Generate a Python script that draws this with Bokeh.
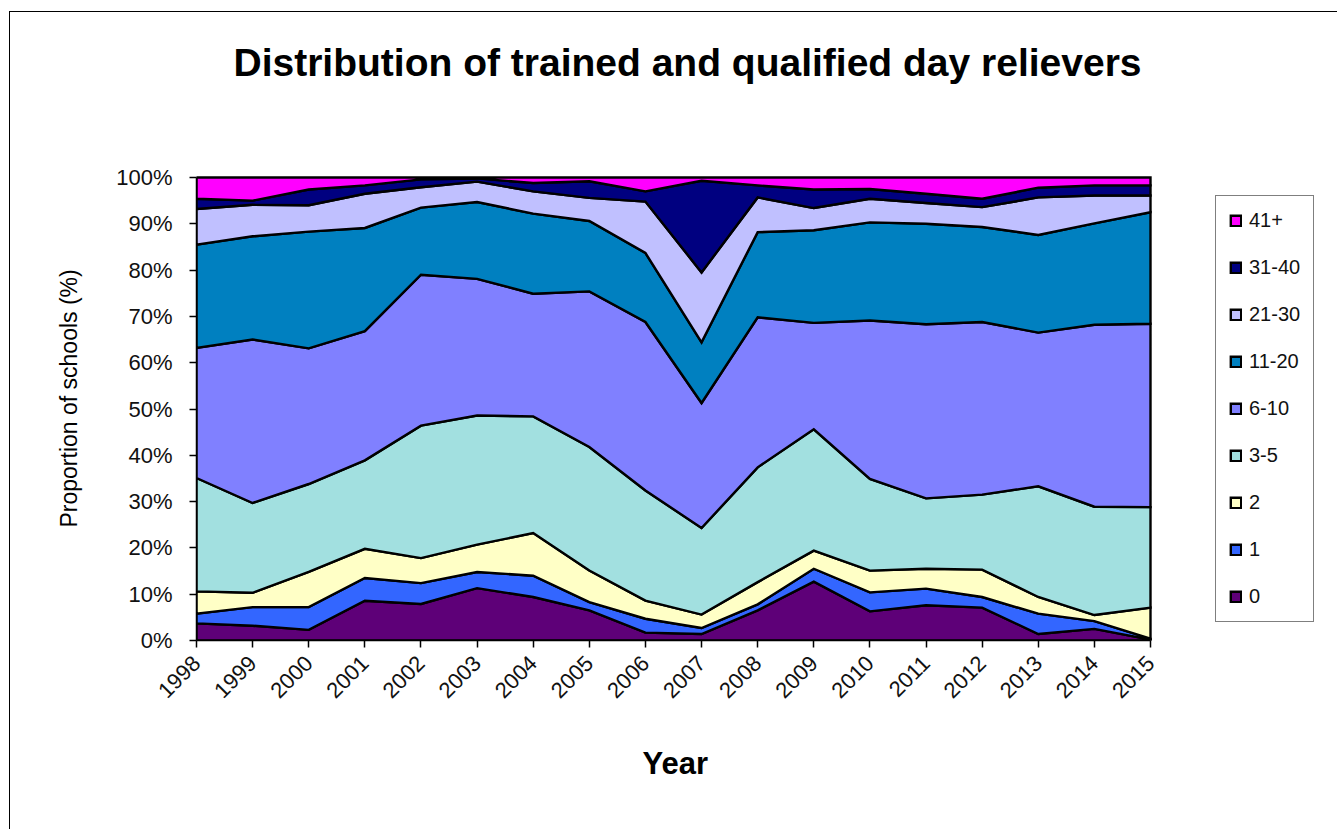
import numpy as np
from bokeh.plotting import figure
from bokeh.models import Legend, LegendItem, FixedTicker, PrintfTickFormatter, Label, Title
from bokeh.embed import file_html
from bokeh.resources import INLINE

years = list(range(1998, 2016))
year_labels = [str(y) for y in years]

# share of schools (%) per number of trained & qualified day relievers
s_0     = [3.7, 3.2, 2.3, 8.6, 7.9, 11.3, 9.4, 6.5, 1.7, 1.4, 6.5, 12.7, 6.3, 7.6, 7.1, 1.4, 2.5, 0.2]
s_1     = [2.1, 4.0, 4.9, 4.9, 4.5, 3.5, 4.6, 1.8, 3.0, 1.3, 1.3, 2.8, 4.1, 3.6, 2.3, 4.4, 1.7, 0.2]
s_2     = [4.8, 3.1, 7.6, 6.3, 5.4, 5.9, 9.2, 6.8, 3.9, 2.9, 4.8, 3.9, 4.7, 4.3, 5.9, 3.6, 1.3, 6.7]
s_3_5   = [24.5, 19.4, 19.0, 19.1, 28.6, 27.9, 25.2, 26.7, 23.8, 18.7, 24.8, 26.2, 19.8, 15.2, 16.2, 23.9, 23.4, 21.7]
s_6_10  = [28.1, 35.3, 29.3, 27.9, 32.6, 29.5, 26.5, 33.6, 36.4, 27.0, 32.4, 23.0, 34.2, 37.6, 37.3, 33.2, 39.3, 39.6]
s_11_20 = [22.3, 22.3, 25.2, 22.3, 14.5, 16.6, 17.3, 15.2, 14.9, 13.1, 18.4, 20.0, 21.2, 21.7, 20.5, 21.1, 21.9, 24.1]
s_21_30 = [7.7, 6.8, 5.7, 7.4, 4.4, 4.4, 4.8, 5.0, 11.1, 15.1, 7.5, 4.8, 5.1, 4.5, 4.3, 8.1, 6.0, 3.6]
s_31_40 = [2.2, 0.9, 3.4, 1.8, 1.7, 0.7, 1.8, 3.6, 2.2, 19.8, 2.6, 4.0, 2.1, 2.0, 1.8, 2.1, 2.2, 2.2]
s_41p   = [4.6, 5.0, 2.6, 1.7, 0.4, 0.2, 1.2, 0.8, 3.0, 0.7, 1.7, 2.6, 2.5, 3.5, 4.6, 2.2, 1.7, 1.7]

series_names = ["0", "1", "2", "3-5", "6-10", "11-20", "21-30", "31-40", "41+"]
series_values = [s_0, s_1, s_2, s_3_5, s_6_10, s_11_20, s_21_30, s_31_40, s_41p]
colors = ["#5E0078", "#3366FF", "#FFFFC6", "#A2E0E0", "#8080FF", "#0080C0", "#C0C0FF", "#000080", "#FF00FF"]

y_ticks = list(range(0, 101, 10))
title_text = "Distribution of trained and qualified day relievers"
x_title = "Year"
y_title = "Proportion of schools (%)"

FONT = "Liberation Sans"

# layout (pixels)
W, H = 1328, 818
ML, MB = 186, 190
PLOT_W, PLOT_H = 954, 463          # pixel size of the 1998-2015 x 0-100% area
frame_w, frame_h = W - ML, H - MB
x0, x1 = years[0], years[-1]
x_end = x0 + (x1 - x0) * frame_w / PLOT_W
y_end = 100.0 * frame_h / PLOT_H

p = figure(width=W, height=H, x_range=(x0, x_end), y_range=(0, y_end),
           output_backend="svg", toolbar_location=None,
           min_border_left=ML, min_border_right=0,
           min_border_top=0, min_border_bottom=MB)
p.styles = {"border-left": "1px solid #000", "border-top": "1px solid #000",
            "margin-top": "11px", "margin-left": "9px"}

vals = np.array(series_values, dtype=float)
tops = np.cumsum(vals, axis=0)
tops = tops / tops[-1] * 100.0
bottoms = np.vstack([np.zeros(len(years)), tops[:-1]])

renderers = []
for i, name in enumerate(series_names):
    xs = years + years[::-1]
    ys = list(tops[i]) + list(bottoms[i][::-1])
    r = p.patch(x=xs, y=ys, fill_color=colors[i], line_color="black",
                line_width=2.4, line_join="miter")
    renderers.append(r)

# chart title placed in the (extended) frame: pixel offsets from the plot area's left/bottom
tx = x0 + (x1 - x0) * 491 / PLOT_W
ty = 100.0 * 578 / PLOT_H
p.add_layout(Label(x=tx, y=ty, text=title_text, text_font=FONT, text_font_size="39px",
                   text_font_style="bold", text_align="center", text_baseline="middle",
                   text_color="black"))

# axis titles centred on the 1998-2015 / 0-100% area
p.add_layout(Title(text=x_title, text_font=FONT, text_font_size="31px", text_font_style="bold",
                   text_color="black", align="left", offset=446, standoff=76,
                   vertical_align="top"), "below")
p.add_layout(Title(text=y_title, text_font=FONT, text_font_size="23px", text_font_style="normal",
                   text_color="black", align="left", offset=113, standoff=64,
                   vertical_align="bottom"), "left")

p.xgrid.visible = False
p.ygrid.visible = False
p.outline_line_color = None
p.background_fill_color = "white"

p.xaxis.ticker = FixedTicker(ticks=years)
p.xaxis.major_label_overrides = {y: l for y, l in zip(years, year_labels)}
p.xaxis.major_label_orientation = np.pi / 4
p.xaxis.bounds = (x0, x1)
p.yaxis.ticker = FixedTicker(ticks=y_ticks)
p.yaxis.formatter = PrintfTickFormatter(format="%d%%")
p.yaxis.bounds = (0, 100)

for ax in (p.xaxis, p.yaxis):
    ax.axis_line_color = "black"
    ax.axis_line_width = 1.5
    ax.major_tick_line_color = "black"
    ax.major_tick_line_width = 1.5
    ax.major_tick_out = 7
    ax.major_tick_in = 0
    ax.minor_tick_line_color = None
    ax.major_label_text_font = FONT
    ax.major_label_text_font_size = "22px"
    ax.major_label_text_color = "#111111"

p.xaxis.major_label_standoff = 12
p.yaxis.major_label_standoff = 17

items = [LegendItem(label=series_names[i], renderers=[renderers[i]]) for i in range(len(series_names) - 1, -1, -1)]
legend = Legend(items=items, location=(1019, 18))
legend.glyph_width = 13
legend.glyph_height = 13
legend.label_height = 14
legend.spacing = 24
legend.padding = 13
legend.margin = 0
legend.label_standoff = 7
legend.label_text_font = FONT
legend.label_text_font_size = "20px"
legend.label_text_color = "#111111"
legend.border_line_color = "black"
legend.border_line_width = 1
legend.background_fill_color = "white"
legend.background_fill_alpha = 1.0
p.add_layout(legend)

open("out.html", "w").write(file_html(p, INLINE))
